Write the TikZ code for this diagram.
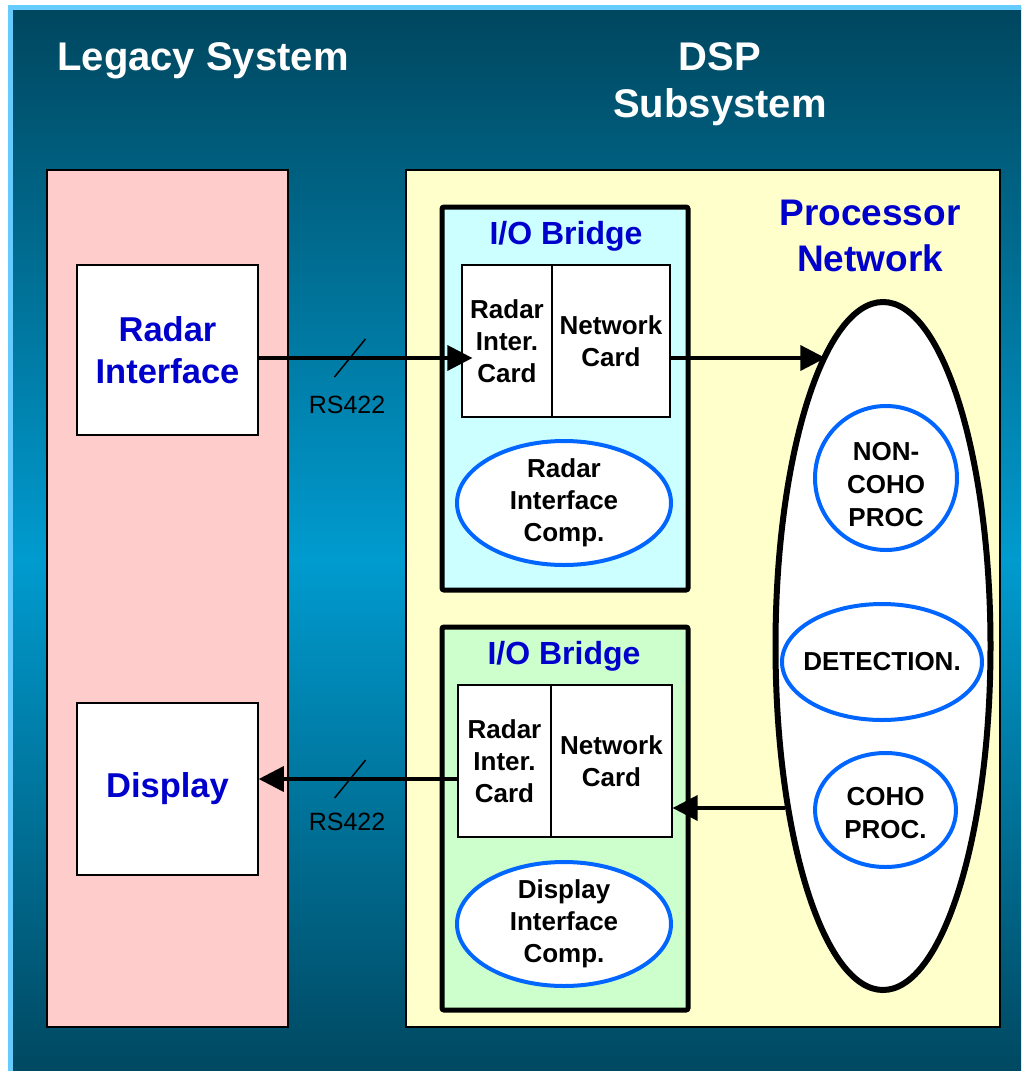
\documentclass[tikz,border=0pt]{standalone}
\usepackage{fontspec}
\setmainfont{Liberation Sans}
\usepackage{xcolor}
\usetikzlibrary{arrows.meta,shapes.geometric}

\definecolor{bgdark}{RGB}{0,70,94}
\definecolor{bgmid}{RGB}{0,155,207}
\definecolor{frameblue}{RGB}{102,204,255}
\definecolor{legacypink}{RGB}{255,204,204}
\definecolor{dspyellow}{RGB}{255,255,204}
\definecolor{bridgecyan}{RGB}{204,255,255}
\definecolor{bridgegreen}{RGB}{204,255,204}
\definecolor{labelblue}{RGB}{0,0,204}
\definecolor{ringblue}{RGB}{0,102,255}

\tikzset{
  panel/.style={draw=black, line width=1.5pt, inner sep=0pt},
  whitebox/.style={draw=black, fill=white, line width=1.5pt, inner sep=0pt, align=center,
    text=labelblue, font=\fontsize{34.5pt}{42pt}\selectfont\bfseries},
  bridge/.style={draw=black, line width=5pt, rounded corners=2pt, inner sep=0pt},
  card/.style={draw=black, fill=white, line width=1.2pt, inner sep=0pt, align=center,
    font=\fontsize{26pt}{32pt}\selectfont\bfseries},
  comp/.style={ellipse, draw=ringblue, fill=white, line width=4pt, inner sep=-20pt, align=center,
    font=\fontsize{26pt}{32pt}\selectfont\bfseries},
  proctext/.style={align=center, font=\fontsize{26pt}{33pt}\selectfont\bfseries},
  headline/.style={text=white, align=center, font=\fontsize{40pt}{47pt}\selectfont\bfseries},
  bluehead/.style={text=labelblue, align=center, font=\fontsize{37pt}{46pt}\selectfont\bfseries},
  bridgehead/.style={text=labelblue, font=\fontsize{32pt}{36pt}\selectfont\bfseries},
  rslabel/.style={font=\fontsize{25pt}{28pt}\selectfont},
  link/.style={line width=3.5pt, -{Triangle[length=25pt,width=25pt]}},
  slash/.style={line width=1.5pt}
}

\begin{document}
\begin{tikzpicture}[x=1pt, y=-1pt]
    \useasboundingbox (0,0) rectangle (1021,1071);
    \clip (0,0) rectangle (1021,1071);
    \shade[top color=bgdark, bottom color=bgmid] (10pt,-7pt) rectangle (1040pt,-560pt);
    \shade[top color=bgmid, bottom color=bgdark] (10pt,-559pt) rectangle (1040pt,-1085pt);
    \draw[frameblue, line width=5pt] (10.5,7.5) rectangle (1045,1095);

    \node[panel, fill=legacypink, minimum width=241pt, minimum height=857pt] (legacy) at (167.5,598.5) {};
    \node[panel, fill=dspyellow, minimum width=594pt, minimum height=857pt] (dsp) at (703,598.5) {};

    \node[headline] (legacytitle) at (203,61) {Legacy System};
    \node[headline] (dsptitle) at (720,84) {DSP\\Subsystem};
    \node[bluehead] (proctitle) at (870,236) {Processor\\Network};

    \node[whitebox, minimum width=181pt, minimum height=170pt] (radarif) at (167.5,350) {Radar\\Interface};
    \node[whitebox, minimum width=181pt, minimum height=172pt] (display) at (167.5,789) {Display};

    \node[bridge, fill=bridgecyan, minimum width=246pt, minimum height=383pt] (bridgeA) at (565,398.5) {};
    \node[bridgehead] (bridgeAtitle) at (566,236) {I/O Bridge};
    \node[card, minimum width=90pt, minimum height=152pt] (cardAradar) at (507,341) {Radar\\Inter.\\Card};
    \node[card, minimum width=118pt, minimum height=152pt] (cardAnet) at (611,341) {Network\\Card};
    \node[comp, minimum width=214pt, minimum height=124pt] (radarcomp) at (564,503) {Radar\\Interface\\Comp.};

    \node[bridge, fill=bridgegreen, minimum width=246pt, minimum height=383pt] (bridgeB) at (565,818.5) {};
    \node[bridgehead] (bridgeBtitle) at (564,656) {I/O Bridge};
    \node[card, minimum width=93pt, minimum height=152pt] (cardBradar) at (504.5,761) {Radar\\Inter.\\Card};
    \node[card, minimum width=121pt, minimum height=152pt] (cardBnet) at (611.5,761) {Network\\Card};
    \node[comp, minimum width=214pt, minimum height=124pt] (displaycomp) at (564,924) {Display\\Interface\\Comp.};

    \node[ellipse, draw=black, fill=white, line width=6pt, inner sep=0pt, minimum width=215pt, minimum height=688pt] (procnet) at (883,646) {};
    \node[comp, minimum width=142pt, minimum height=144pt] (noncoho) at (886,478) {};
    \node[proctext] (noncohotext) at ([yshift=-7pt]noncoho.center) {NON-\\COHO\\PROC};
    \node[comp, minimum width=200pt, minimum height=116pt] (detection) at (882,662) {DETECTION.};
    \node[comp, minimum width=141pt, minimum height=114pt] (coho) at (885.5,810) {};
    \node[proctext] (cohotext) at ([yshift=-3pt]coho.center) {COHO\\PROC.};

    \draw[link, shorten >=-11pt] ([yshift=-8pt]radarif.east) -- coordinate[pos=0.45] (rsup) ([yshift=-17pt]cardAradar.west);
    \draw[link] ([yshift=-17pt]cardAnet.east) -- ([yshift=-17pt]cardAnet.east -| procnet.101.7);
    \draw[link] ([yshift=-18pt]cardBradar.west) -- coordinate[pos=0.54] (rsdown) ([yshift=10pt]display.east);
    \draw[link] ([yshift=-47pt]cardBnet.east -| procnet.239.5) -- ([yshift=-47pt]cardBnet.east);

    \draw[slash] ([shift={(-15.5,19)}]rsup) -- ([shift={(15.5,-19)}]rsup);
    \draw[slash] ([shift={(-15.5,19)}]rsdown) -- ([shift={(15.5,-19)}]rsdown);
    \node[rslabel] (rsuplabel) at (347,405) {RS422};
    \node[rslabel] (rsdownlabel) at (347,822) {RS422};
\end{tikzpicture}
\end{document}
